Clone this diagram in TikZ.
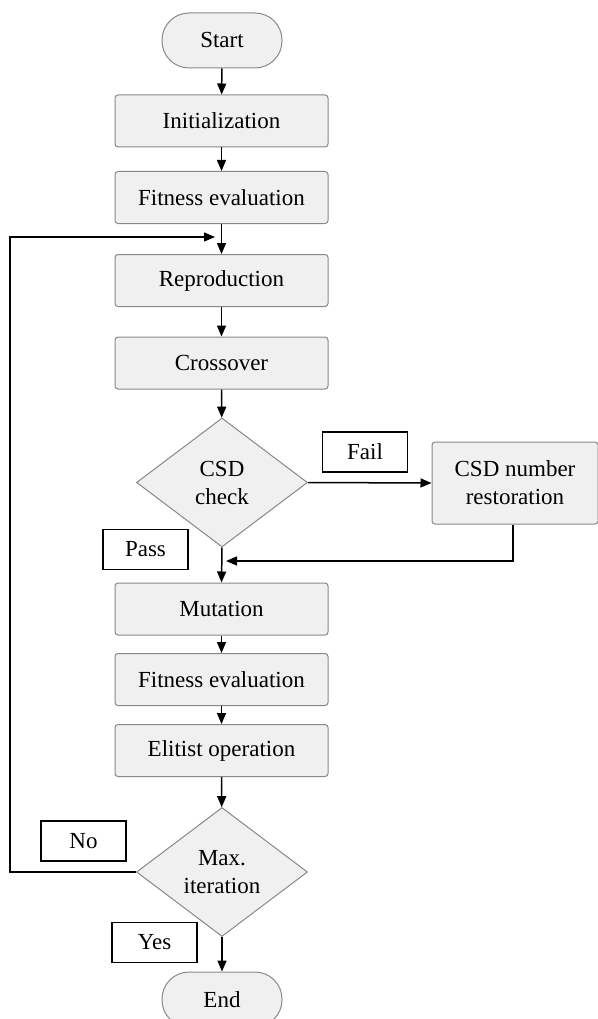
\documentclass[tikz,border=0pt]{standalone}
\usepackage{fontspec}
\setmainfont{Liberation Serif}
\usetikzlibrary{arrows.meta,shapes.geometric}
\definecolor{boxfill}{HTML}{F0F0F0}
\definecolor{boxline}{HTML}{888888}
\begin{document}
\begin{tikzpicture}[x=1pt,y=-1pt,
  every node/.style={font=\fontsize{23}{28}\selectfont, inner sep=0pt, align=center},
  procbox/.style={draw=boxline, fill=boxfill, rounded corners=3pt, line width=1pt, minimum width=213pt, minimum height=52pt},
  termbox/.style={draw=boxline, fill=boxfill, rounded corners=27pt, line width=1pt, minimum width=120pt, minimum height=55pt},
  decbox/.style={diamond, draw=boxline, fill=boxfill, line width=1pt, minimum width=171pt, minimum height=129pt},
  tagbox/.style={draw=black, fill=white, line width=1.1pt, minimum width=85pt, minimum height=40pt},
  arr/.style={line width=1.5pt, -{Triangle[length=11pt,width=9pt]}}
]
\useasboundingbox (0,0) rectangle (597,1019);
\node[termbox] (start) at (222,40.5) {Start};
\node[procbox] (init) at (221.5,121) {Initialization};
\node[procbox] (fit1) at (221.5,197.5) {Fitness evaluation};
\node[procbox] (repro) at (221.5,280.5) {Reproduction};
\node[procbox] (cross) at (221.5,363) {Crossover};
\node[decbox] (csd) at (222,482.5) {CSD\\check};
\node[procbox, minimum width=166pt, minimum height=82pt] (rest) at (515,483) {CSD number\\restoration};
\node[procbox] (mut) at (221.5,609) {Mutation};
\node[procbox] (fit2) at (221.5,679.5) {Fitness evaluation};
\node[procbox] (elit) at (221.5,750.5) {Elitist operation};
\node[decbox] (max) at (222,872) {Max.\\iteration};
\node[termbox] (endn) at (222,999.5) {End};
\node[tagbox] (fail) at (365,452) {Fail};
\node[tagbox] (pass) at (145.5,549.5) {Pass};
\node[tagbox] (no) at (83.5,841) {No};
\node[tagbox] (yes) at (154.5,942.5) {Yes};
\coordinate (join) at (226,561);
\coordinate (loop) at (215,237);
\draw[arr] (start) -- (init);
\draw[arr] (init) -- (fit1);
\draw[arr] (fit1) -- (repro);
\draw[arr] (repro) -- (cross);
\draw[arr] (cross) -- (csd);
\draw[arr] (csd.east) -- (rest.west);
\draw[arr] (rest.south -| 513,0) |- (join);
\draw[arr] (csd.south) -- (mut.north);
\draw[arr] (mut) -- (fit2);
\draw[arr] (fit2) -- (elit);
\draw[arr] (elit) -- (max);
\draw[arr] (max.west) -- ++(-126,0) |- (loop);
\draw[arr] (max.south) -- (endn.north);
\end{tikzpicture}
\end{document}
